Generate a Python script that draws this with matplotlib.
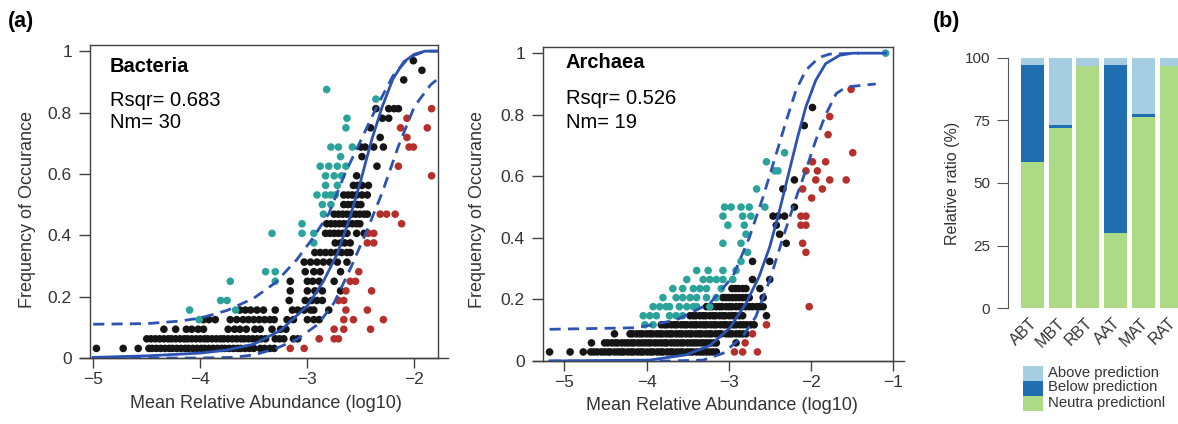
import matplotlib
matplotlib.use("Agg")
import matplotlib.pyplot as plt
from matplotlib.patches import Rectangle
from matplotlib.transforms import blended_transform_factory

plt.rcParams['font.family'] = ['Liberation Sans', 'DejaVu Sans']

# ---------------- data ----------------
# occurrence rows: {number of sites where the taxon occurs: [log10 mean abundance, ...]}
bac_sites = 32
bac_black = {
    1: [-4.97, -4.72, -4.58, -4.48, -4.45, -4.41, -4.37, -4.33, -4.29, -4.26, -4.22, -4.18, -4.14,
        -4.11, -4.07, -4.03, -3.99, -3.96, -3.92, -3.88, -3.84, -3.80, -3.77, -3.73, -3.69, -3.65,
        -3.62, -3.58, -3.54, -3.50, -3.44, -3.40, -3.35, -3.31],
    2: [-4.50, -4.46, -4.42, -4.38, -4.34, -4.30, -4.27, -4.23, -4.19, -4.15, -4.12, -4.08, -4.04,
        -4.00, -3.96, -3.93, -3.89, -3.85, -3.81, -3.78, -3.74, -3.70, -3.66, -3.62, -3.59, -3.55,
        -3.51, -3.47, -3.43, -3.39, -3.30, -3.26, -3.22, -3.13, -3.09],
    3: [-4.34, -4.23, -4.13, -4.08, -4.02, -3.97, -3.74, -3.68, -3.63, -3.57, -3.49, -3.44, -3.33,
        -3.25, -3.20],
    4: [-3.97, -3.92, -3.86, -3.72, -3.66, -3.60, -3.55, -3.50, -3.45, -3.40, -3.35, -3.31, -3.19,
        -3.13, -3.00, -2.94, -2.89],
    5: [-3.63, -3.58, -3.53, -3.47, -3.41, -3.30, -3.14, -3.09, -3.03, -2.97, -2.94, -2.80],
    6: [-3.17, -3.02, -2.96, -2.91, -2.86],
    7: [-3.16, -3.00, -2.93, -2.86, -2.69],
    8: [-3.16, -3.00, -2.95, -2.89, -2.75],
    9: [-3.02, -2.94, -2.88, -2.69],
    10: [-3.03, -2.97, -2.91, -2.85, -2.79, -2.72, -2.63],
    11: [-2.93, -2.88, -2.83, -2.78, -2.73, -2.68, -2.63, -2.60],
    12: [-2.74, -2.69, -2.65, -2.60],
    13: [-2.83, -2.79, -2.75, -2.71, -2.67, -2.63, -2.54, -2.47],
    14: [-2.82, -2.78, -2.74, -2.70, -2.66, -2.62, -2.58, -2.54, -2.51],
    15: [-2.75, -2.71, -2.67, -2.63, -2.59, -2.55, -2.51, -2.47, -2.44],
    16: [-2.66, -2.62, -2.58, -2.53, -2.50],
    17: [-2.66, -2.62, -2.58, -2.54, -2.49, -2.44],
    18: [-2.57, -2.53, -2.49, -2.43],
    19: [-2.54], 20: [-2.35], 21: [-2.49],
    22: [-2.50, -2.46, -2.38, -2.29],
    23: [-2.32], 24: [-2.41], 25: [-2.30, -2.24],
    26: [-2.36, -2.24, -2.19, -2.15],
    29: [-2.10], 30: [-1.93], 31: [-2.01],
}
bac_above = {
    4: [-4.01], 5: [-4.10, -3.67], 6: [-3.81, -3.75], 8: [-3.72, -3.30], 9: [-3.39, -3.30],
    12: [-2.94], 13: [-3.33, -3.05, -2.94], 14: [-3.05], 15: [-2.85], 16: [-2.86, -2.78],
    17: [-2.91, -2.83, -2.78, -2.74], 18: [-2.83, -2.72], 19: [-2.83, -2.75, -2.68],
    20: [-2.88, -2.80, -2.72, -2.64], 21: [-2.69], 22: [-2.78, -2.71, -2.58],
    24: [-2.64], 25: [-2.63], 27: [-2.36], 28: [-2.82],
}
bac_below = {
    1: [-3.16, -3.03], 2: [-2.89, -2.75, -2.71], 3: [-2.75, -2.66, -2.41], 4: [-2.66, -2.57, -2.29],
    5: [-2.64, -2.44], 6: [-2.71, -2.66], 7: [-2.64, -2.40], 8: [-2.60, -2.55], 9: [-2.52],
    12: [-2.44, -2.38], 13: [-2.43, -2.38], 14: [-2.12], 15: [-2.32, -2.26, -2.18],
    19: [-1.84], 20: [-2.15], 22: [-2.05, -2.01], 23: [-2.07], 24: [-2.13, -1.88],
    25: [-2.07], 26: [-1.84],
}
bac_fit_x = [-5.0, -4.5, -4.0, -3.75, -3.5, -3.25, -3.0, -2.85, -2.72, -2.6, -2.5, -2.4,
             -2.3, -2.2, -2.1, -2.0, -1.9, -1.78]
bac_fit_y = [0.002, 0.007, 0.016, 0.026, 0.045, 0.09, 0.17, 0.25, 0.34, 0.46, 0.58, 0.71,
             0.82, 0.91, 0.965, 0.99, 1.0, 1.0]
bac_up_x = [-5.0, -4.5, -4.2, -4.0, -3.75, -3.5, -3.3, -3.1, -2.95, -2.8, -2.65, -2.5, -2.35,
            -2.2, -2.05, -1.9, -1.78]
bac_up_y = [0.11, 0.112, 0.12, 0.13, 0.155, 0.195, 0.245, 0.32, 0.39, 0.47, 0.6, 0.71, 0.82,
            0.92, 0.98, 1.0, 1.0]
bac_lo_x = [-5.0, -4.0, -3.7, -3.5, -3.3, -3.1, -2.9, -2.75, -2.6, -2.45, -2.3, -2.15, -2.0,
            -1.85, -1.78]
bac_lo_y = [0.0, 0.0, 0.002, 0.01, 0.03, 0.06, 0.11, 0.18, 0.29, 0.41, 0.54, 0.69, 0.82,
            0.89, 0.91]

arc_sites = 34
arc_black = {
    1: [-5.18, -4.93, -4.77, -4.68, -4.64, -4.60, -4.55, -4.51, -4.47, -4.44, -4.39, -4.35, -4.31,
        -4.28, -4.23, -4.19, -4.16, -4.11, -4.07, -4.04, -3.99, -3.95, -3.92, -3.87, -3.83, -3.80,
        -3.75, -3.71, -3.68, -3.63, -3.59, -3.56, -3.51, -3.47, -3.44, -3.39, -3.35, -3.31, -3.27,
        -3.23, -3.19, -3.15],
    2: [-4.67, -4.51, -4.47, -4.42, -4.38, -4.35, -4.30, -4.26, -4.22, -4.18, -4.15, -4.10, -4.06,
        -4.02, -3.98, -3.95, -3.90, -3.86, -3.82, -3.78, -3.75, -3.70, -3.66, -3.62, -3.58, -3.55,
        -3.50, -3.46, -3.42, -3.38, -3.34, -3.30, -3.26, -3.22, -3.18, -3.15, -2.91],
    3: [-4.39, -4.20, -4.17, -4.12, -4.08, -4.05, -4.00, -3.96, -3.93, -3.88, -3.84, -3.81, -3.76,
        -3.72, -3.69, -3.64, -3.60, -3.57, -3.52, -3.48, -3.45, -3.40, -3.36, -3.33, -3.28, -3.24,
        -3.21, -3.16, -3.12, -3.09, -3.03, -2.99, -2.96, -2.91, -2.87, -2.83, -2.79],
    4: [-3.82, -3.78, -3.75, -3.70, -3.66, -3.63, -3.58, -3.54, -3.51, -3.46, -3.42, -3.39, -3.34,
        -3.30, -3.27, -3.22, -3.18, -3.15, -3.10, -3.06, -3.03, -2.98, -2.94, -2.91, -2.86, -2.82,
        -2.78, -2.73, -2.69],
    5: [-3.47, -3.43, -3.40, -3.35, -3.31, -3.28, -3.23, -3.19, -3.16, -3.11, -3.07, -3.04, -2.99,
        -2.95, -2.92, -2.87, -2.83, -2.54],
    6: [-3.27, -3.23, -3.20, -3.15, -3.11, -3.08, -3.03, -2.99, -2.96, -2.91, -2.87, -2.84, -2.79,
        -2.75, -2.71, -2.66, -2.62, -2.58],
    7: [-3.07, -3.03, -2.99, -2.95, -2.91, -2.87, -2.83, -2.79, -2.75, -2.58],
    8: [-2.96, -2.92, -2.88, -2.83, -2.79, -2.62],
    9: [-2.71, -2.50], 11: [-2.71, -2.50], 13: [-2.30], 14: [-2.38], 15: [-2.42],
    16: [-2.46, -2.40, -2.32], 17: [-2.20], 19: [-2.34], 20: [-2.20], 26: [-2.08], 28: [-1.98],
}
arc_above = {
    4: [-4.02, -3.92],
    5: [-4.04, -3.96, -3.88, -3.72, -3.64, -3.56],
    6: [-3.92, -3.84, -3.76, -3.72, -3.60, -3.51, -3.43, -3.39, -3.23],
    7: [-3.80, -3.64, -3.56, -3.47, -3.39, -3.27, -3.15],
    8: [-3.68, -3.56, -3.43, -3.35, -3.27, -3.09],
    9: [-3.51, -3.31, -3.23, -3.15, -3.07, -2.95],
    10: [-3.39, -3.25, -3.07, -2.91],
    11: [-2.85], 12: [-2.77], 13: [-3.07, -2.85], 14: [-2.79], 15: [-3.01, -2.81],
    16: [-3.07, -2.83, -2.73], 17: [-3.05, -2.97, -2.85, -2.75, -2.56], 19: [-2.66],
    21: [-2.44, -2.40], 22: [-2.54], 23: [-2.32], 34: [-1.09],
}
arc_below = {
    1: [-2.93, -2.83, -2.65], 2: [-2.80], 3: [-2.71], 4: [-2.54], 6: [-2.02], 12: [-2.06],
    13: [-2.10], 15: [-2.12, -2.06], 16: [-2.12, -2.06], 18: [-1.99], 19: [-2.10, -1.86],
    20: [-1.94, -1.77, -1.57], 21: [-2.06, -1.92], 22: [-1.98, -1.82], 23: [-1.49],
    25: [-1.79], 27: [-1.77], 30: [-1.51],
}
arc_fit_x = [-5.18, -3.96, -3.52, -3.23, -2.99, -2.79, -2.63, -2.50, -2.38, -2.26, -2.16, -2.06,
             -1.94, -1.82, -1.65, -1.49, -1.09]
arc_fit_y = [0.0, 0.003, 0.02, 0.05, 0.106, 0.187, 0.274, 0.371, 0.49, 0.62, 0.728, 0.826,
             0.912, 0.966, 0.993, 1.0, 1.0]
arc_up_x = [-5.18, -4.12, -3.64, -3.23, -2.95, -2.75, -2.58, -2.42, -2.30, -2.18, -2.06, -1.90,
            -1.77, -1.41]
arc_up_y = [0.103, 0.108, 0.133, 0.187, 0.274, 0.40, 0.534, 0.674, 0.78, 0.88, 0.945, 0.986,
            0.997, 1.0]
arc_lo_x = [-5.18, -3.72, -3.31, -3.07, -2.83, -2.67, -2.50, -2.34, -2.18, -2.06, -1.94, -1.82,
            -1.69, -1.57, -1.21]
arc_lo_y = [0.0, 0.0, 0.003, 0.025, 0.079, 0.144, 0.263, 0.40, 0.53, 0.62, 0.717, 0.80,
            0.869, 0.89, 0.90]

groups = ['ABT', 'MBT', 'RBT', 'AAT', 'MAT', 'RAT']
neutral_pct = [58.5, 72.0, 96.8, 29.9, 76.3, 96.8]
below_pct = [38.7, 1.3, 0.0, 67.3, 1.2, 0.0]
above_pct = [2.8, 26.7, 3.2, 2.8, 22.5, 3.2]

# ---------------- styling ----------------
W, H = 1178, 424
C_BLACK, C_TEAL, C_RED = '#151515', '#2ba39b', '#b5302b'
C_FIT = '#2c52b3'
C_ABOVE, C_BELOW, C_NEUTRAL = '#a6cee3', '#1f6fb0', '#addb85'
AX_COL = '#404040'


def fx(px):
    return px / W


def fy(py):
    return 1 - py / H


def rows_xy(rows, n):
    xs, ys = [], []
    for k, vals in rows.items():
        xs += vals
        ys += [k / n] * len(vals)
    return xs, ys


fig = plt.figure(figsize=(W / 100, H / 100), dpi=100)


def scatter_panel(rect, n, black, above, below, fit, up, lo, xlim, xticks):
    ax = fig.add_axes(rect)
    for rows, col in ((black, C_BLACK), (above, C_TEAL), (below, C_RED)):
        xs, ys = rows_xy(rows, n)
        ax.scatter(xs, ys, s=30, color=col, edgecolors='none', zorder=2)
    ax.plot(fit[0], fit[1], color=C_FIT, lw=2.0, zorder=3)
    for cx, cy in (up, lo):
        ax.plot(cx, cy, color=C_FIT, lw=2.0, dashes=(4, 2.6), zorder=3)
    ax.set_xlim(*xlim)
    ax.set_ylim(0, 1.02)
    ax.set_xticks(xticks)
    ax.set_xticklabels([f'\u2212{abs(t)}' for t in xticks])
    ax.set_yticks([0, 0.2, 0.4, 0.6, 0.8, 1.0])
    ax.set_yticklabels(['0', '0.2', '0.4', '0.6', '0.8', '1'])
    ax.tick_params(direction='out', labelsize=12.5, color=AX_COL, labelcolor='#333333', width=1)
    ax.tick_params(axis='y', length=8, pad=5)
    ax.tick_params(axis='x', length=7, pad=3)
    for sp in ax.spines.values():
        sp.set_color(AX_COL)
        sp.set_linewidth(1.0)
    ax.plot([-0.03, 1.03], [0, 0], transform=ax.transAxes, color=AX_COL, lw=1.0, clip_on=False)
    return ax


ax1 = scatter_panel([fx(90), fy(358), (438 - 90) / W, (358 - 45) / H], bac_sites,
                    bac_black, bac_above, bac_below, (bac_fit_x, bac_fit_y),
                    (bac_up_x, bac_up_y), (bac_lo_x, bac_lo_y), (-5.03, -1.78), [-5, -4, -3, -2])
ax2 = scatter_panel([fx(543), fy(361), (893 - 543) / W, (361 - 47) / H], arc_sites,
                    arc_black, arc_above, arc_below, (arc_fit_x, arc_fit_y),
                    (arc_up_x, arc_up_y), (arc_lo_x, arc_lo_y), (-5.26, -1.0), [-5, -4, -3, -2, -1])

# panel text
fig.text(fx(110), fy(66), 'Bacteria', weight='bold', size=14.5, va='center')
fig.text(fx(110), fy(101), 'Rsqr= 0.683', size=14.5, va='center')
fig.text(fx(110), fy(123), 'Nm= 30', size=14.5, va='center')
fig.text(fx(566), fy(63), 'Archaea', weight='bold', size=14.5, va='center')
fig.text(fx(566), fy(99), 'Rsqr= 0.526', size=14.5, va='center')
fig.text(fx(566), fy(122), 'Nm= 19', size=14.5, va='center')

for px, py in ((28, 210), (478, 210)):
    fig.text(fx(px), fy(py), 'Frequency of Occurance', rotation=90, size=13,
             ha='center', va='center', color='#333333')
for px, py in ((266, 403), (722, 406)):
    fig.text(fx(px), fy(py), 'Mean Relative Abundance (log10)', size=13,
             ha='center', va='center', color='#333333')

fig.text(fx(8), fy(22), '(a)', weight='bold', size=15.5, va='center')
fig.text(fx(933), fy(22), '(b)', weight='bold', size=15.5, va='center')

# ---------------- stacked bars ----------------
ax3 = fig.add_axes([fx(1008), fy(308), (W - 1008) / W, 250 / H])
pos = list(range(len(groups)))
bw = 0.83
ax3.bar(pos, neutral_pct, width=bw, color=C_NEUTRAL)
ax3.bar(pos, below_pct, width=bw, bottom=neutral_pct, color=C_BELOW)
ax3.bar(pos, above_pct, width=bw, bottom=[a + b for a, b in zip(neutral_pct, below_pct)],
        color=C_ABOVE)
ax3.set_xlim(-0.885, 5.25)
ax3.set_ylim(0, 100)
ax3.set_xticks([])
ax3.set_yticks([0, 25, 50, 75, 100])
ax3.tick_params(axis='y', direction='out', length=8, pad=5, labelsize=11,
                color='#555555', labelcolor='#333333')
for side in ('top', 'right', 'bottom'):
    ax3.spines[side].set_visible(False)
ax3.spines['left'].set_color('#555555')
trans = blended_transform_factory(ax3.transData, ax3.transAxes)
for i, g in enumerate(groups):
    ax3.text(i + 0.08, -0.05, g, transform=trans, rotation=45, ha='right', va='center',
             rotation_mode='anchor', size=11.5, color='#333333')
fig.text(fx(953), fy(183), 'Relative ratio (%)', rotation=90, size=11.5,
         ha='center', va='center', color='#333333')

# legend
leg_items = [('Above prediction', C_ABOVE, 366), ('Below prediction', C_BELOW, 381),
             ('Neutra predictionl', C_NEUTRAL, 396)]
for label, col, top in leg_items:
    fig.add_artist(Rectangle((fx(1023), fy(top + 15)), 20 / W, 15 / H,
                             transform=fig.transFigure, facecolor=col, edgecolor='none'))
    fig.text(fx(1048), fy(top + 6.5), label, size=10.7, va='center', color='#333333')

fig.savefig('out.png', dpi=100)
